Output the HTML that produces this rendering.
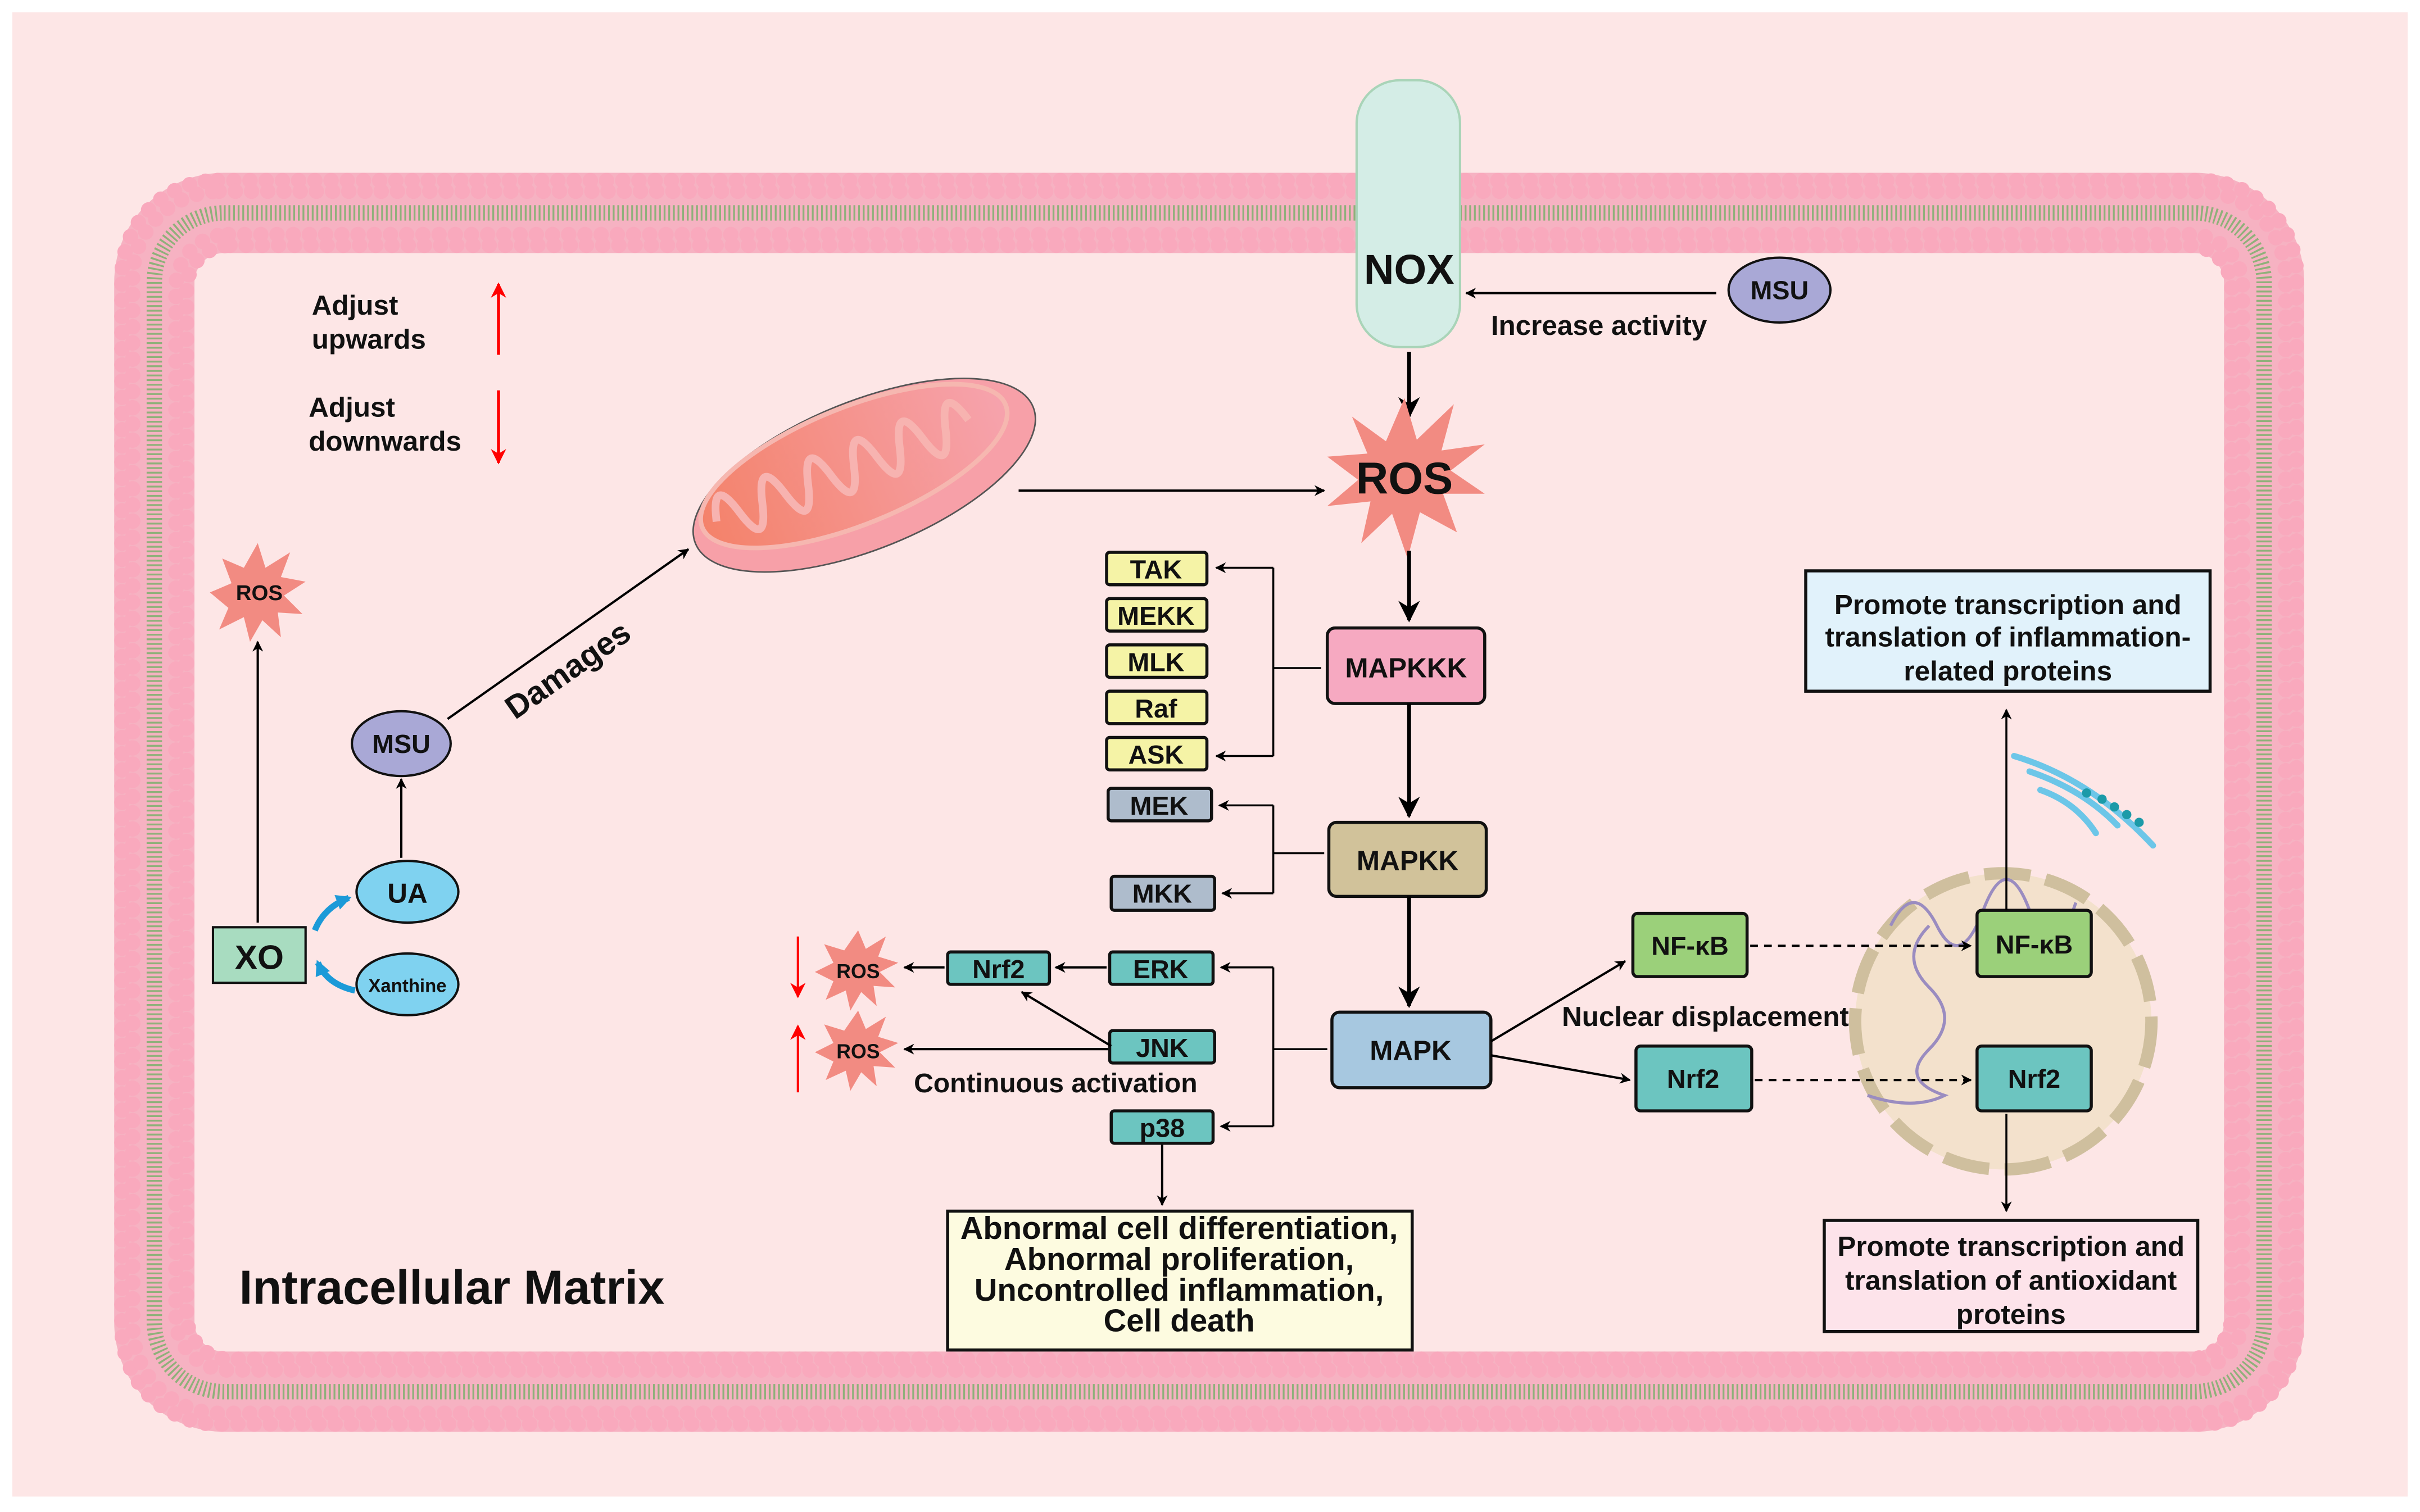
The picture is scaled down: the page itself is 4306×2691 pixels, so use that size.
<!DOCTYPE html>
<html><head><meta charset="utf-8"><style>
html,body{margin:0;padding:0;background:#fff;}
svg{display:block;}
text{font-family:"Liberation Sans",Arial,sans-serif;font-weight:bold;fill:#111;}
</style></head><body>
<svg width="4306" height="2691" viewBox="0 0 1568 980" preserveAspectRatio="none" xmlns="http://www.w3.org/2000/svg">
<defs>
<marker id="a" viewBox="0 0 10 10" refX="9" refY="5" markerWidth="7" markerHeight="7" orient="auto-start-reverse" markerUnits="userSpaceOnUse"><path d="M0,0 L10,5 L0,10 L3,5 z" fill="#000"/></marker>
<marker id="ab" viewBox="0 0 10 10" refX="9" refY="5" markerWidth="14" markerHeight="14" orient="auto" markerUnits="userSpaceOnUse"><path d="M0,0 L10,5 L0,10 L3,5 z" fill="#000"/></marker>
<marker id="ar" viewBox="0 0 10 10" refX="9" refY="5" markerWidth="10" markerHeight="10" orient="auto" markerUnits="userSpaceOnUse"><path d="M0,0 L10,5 L0,10 L3,5 z" fill="#f00"/></marker>
<marker id="abl" viewBox="0 0 10 10" refX="8" refY="5" markerWidth="10" markerHeight="10" orient="auto" markerUnits="userSpaceOnUse"><path d="M0,0 L10,5 L0,10 z" fill="#1b9ad8"/></marker>
<linearGradient id="mito" x1="0" y1="0" x2="1" y2="0"><stop offset="0" stop-color="#f4826a"/><stop offset="1" stop-color="#f6a3ad"/></linearGradient>
</defs>
<rect x="0" y="0" width="1568" height="980" fill="#fff"/>
<rect x="8" y="8" width="1552" height="962" fill="#fde6e6"/>

<!-- membrane -->
<rect x="100" y="138" width="1367" height="764" rx="45" fill="none" stroke="#f6b2c2" stroke-width="52"/>
<rect x="79" y="117" width="1409" height="806" rx="62" fill="none" stroke="#f9a9bd" stroke-width="10" stroke-dasharray="0 10.5" stroke-linecap="round"/>
<rect x="86" y="124" width="1395" height="792" rx="56" fill="none" stroke="#f9a9bd" stroke-width="10" stroke-dasharray="0 10.5" stroke-linecap="round"/>
<rect x="114" y="152" width="1339" height="736" rx="34" fill="none" stroke="#f9a9bd" stroke-width="10" stroke-dasharray="0 10.5" stroke-linecap="round"/>
<rect x="121" y="159" width="1325" height="722" rx="28" fill="none" stroke="#f9a9bd" stroke-width="10" stroke-dasharray="0 10.5" stroke-linecap="round"/>
<rect x="100" y="138" width="1367" height="764" rx="45" fill="none" stroke="#8fb07a" stroke-width="10" stroke-dasharray="1.2 1.8"/>

<!-- NOX -->
<rect x="879" y="52" width="67" height="173" rx="28" fill="#d4ede6" stroke="#a9d4b8" stroke-width="1.5"/>
<text x="913" y="184" font-size="27" text-anchor="middle">NOX</text>
<ellipse cx="1153" cy="188" rx="33" ry="21" fill="#a9a8d6" stroke="#111" stroke-width="1.5"/>
<text x="1153" y="194" font-size="17" text-anchor="middle">MSU</text>
<line x1="1112" y1="190" x2="950" y2="190" stroke="#000" stroke-width="1.5" marker-end="url(#a)"/>
<text x="1036" y="217" font-size="18" text-anchor="middle">Increase activity</text>
<line x1="913" y1="228" x2="913" y2="270" stroke="#000" stroke-width="2.5" marker-end="url(#ab)"/>

<!-- ROS big -->
<polygon points="910,258 918,285 942,262 934,292 962,288 940,305 962,320 935,320 944,345 920,332 912,362 902,333 882,352 888,325 860,328 880,311 860,296 886,294 876,270 898,286" fill="#f28b82"/>
<text x="910" y="320" font-size="29" text-anchor="middle">ROS</text>

<!-- mitochondrion -->
<g transform="rotate(-22 560 308)">
<ellipse cx="560" cy="308" rx="118" ry="48" fill="#f7a0a8" stroke="#555" stroke-width="1"/>
<ellipse cx="556" cy="300" rx="106" ry="38" fill="url(#mito)" stroke="#f6b7b0" stroke-width="3"/>
<path d="M460,300 q8,-30 16,0 q8,30 16,0 q8,-30 16,0 q8,30 16,0 q8,-30 16,0 q8,30 16,0 q8,-30 16,0 q8,30 16,0 q8,-30 16,0 q8,30 16,0 q8,-30 16,0" fill="none" stroke="#f7b3b0" stroke-width="5"/>
</g>
<line x1="660" y1="318" x2="858" y2="318" stroke="#000" stroke-width="1.5" marker-end="url(#a)"/>

<!-- legend -->
<text x="202" y="204" font-size="18">Adjust</text>
<text x="202" y="226" font-size="18">upwards</text>
<line x1="323" y1="230" x2="323" y2="184" stroke="#f00" stroke-width="2" marker-end="url(#ar)"/>
<text x="200" y="270" font-size="18">Adjust</text>
<text x="200" y="292" font-size="18">downwards</text>
<line x1="323" y1="253" x2="323" y2="300" stroke="#f00" stroke-width="2" marker-end="url(#ar)"/>

<!-- left ROS -->
<polygon points="167,352 172,368 188,358 182,374 198,377 184,386 196,398 180,397 182,413 170,402 162,416 158,400 142,408 148,394 136,384 150,378 144,362 158,368" fill="#f28b82"/>
<text x="168" y="389" font-size="14" text-anchor="middle">ROS</text>
<line x1="167" y1="598" x2="167" y2="416" stroke="#000" stroke-width="1.5" marker-end="url(#a)"/>
<rect x="138" y="601" width="60" height="36" fill="#a8dcc0" stroke="#111" stroke-width="1.5"/>
<text x="168" y="628" font-size="22" text-anchor="middle">XO</text>
<path d="M204,603 Q210,588 226,582" fill="none" stroke="#1b9ad8" stroke-width="4" marker-end="url(#abl)"/>
<path d="M230,642 Q212,638 206,624" fill="none" stroke="#1b9ad8" stroke-width="4" marker-end="url(#abl)"/>
<ellipse cx="264" cy="578" rx="33" ry="20" fill="#7fd2f0" stroke="#111" stroke-width="1.5"/>
<text x="264" y="585" font-size="18" text-anchor="middle">UA</text>
<ellipse cx="264" cy="638" rx="33" ry="20" fill="#7fd2f0" stroke="#111" stroke-width="1.5"/>
<text x="264" y="643" font-size="12" text-anchor="middle">Xanthine</text>
<line x1="260" y1="556" x2="260" y2="505" stroke="#000" stroke-width="1.5" marker-end="url(#a)"/>
<ellipse cx="260" cy="482" rx="32" ry="21" fill="#a9a8d6" stroke="#111" stroke-width="1.5"/>
<text x="260" y="488" font-size="17" text-anchor="middle">MSU</text>
<line x1="290" y1="466" x2="446" y2="356" stroke="#000" stroke-width="1.5" marker-end="url(#a)"/>
<text x="372" y="440" font-size="21" text-anchor="middle" transform="rotate(-35 372 440)">Damages</text>

<!-- MAPKKK -->
<line x1="913" y1="357" x2="913" y2="402" stroke="#000" stroke-width="2.5" marker-end="url(#ab)"/>
<rect x="860" y="407" width="102" height="49" rx="5" fill="#f6a9c1" stroke="#111" stroke-width="2"/>
<text x="911" y="439" font-size="18" text-anchor="middle">MAPKKK</text>
<rect x="717" y="358" width="65" height="21" rx="2" fill="#f5f3a6" stroke="#111" stroke-width="2"/><text x="749" y="375" font-size="17" text-anchor="middle">TAK</text>
<rect x="717" y="388" width="65" height="21" rx="2" fill="#f5f3a6" stroke="#111" stroke-width="2"/><text x="749" y="405" font-size="17" text-anchor="middle">MEKK</text>
<rect x="717" y="418" width="65" height="21" rx="2" fill="#f5f3a6" stroke="#111" stroke-width="2"/><text x="749" y="435" font-size="17" text-anchor="middle">MLK</text>
<rect x="717" y="448" width="65" height="21" rx="2" fill="#f5f3a6" stroke="#111" stroke-width="2"/><text x="749" y="465" font-size="17" text-anchor="middle">Raf</text>
<rect x="717" y="478" width="65" height="21" rx="2" fill="#f5f3a6" stroke="#111" stroke-width="2"/><text x="749" y="495" font-size="17" text-anchor="middle">ASK</text>
<path d="M825,368 V490" stroke="#000" stroke-width="1.3" fill="none"/>
<line x1="825" y1="368" x2="788" y2="368" stroke="#000" stroke-width="1.3" marker-end="url(#a)"/>
<line x1="825" y1="490" x2="788" y2="490" stroke="#000" stroke-width="1.3" marker-end="url(#a)"/>
<line x1="825" y1="433" x2="856" y2="433" stroke="#000" stroke-width="1.3"/>

<!-- MAPKK -->
<line x1="913" y1="456" x2="913" y2="529" stroke="#000" stroke-width="2.5" marker-end="url(#ab)"/>
<rect x="861" y="533" width="102" height="48" rx="5" fill="#d1c29a" stroke="#111" stroke-width="2"/>
<text x="912" y="564" font-size="18" text-anchor="middle">MAPKK</text>
<rect x="718" y="511" width="67" height="21" rx="2" fill="#aebccc" stroke="#111" stroke-width="2"/><text x="751" y="528" font-size="17" text-anchor="middle">MEK</text>
<rect x="720" y="568" width="67" height="22" rx="2" fill="#aebccc" stroke="#111" stroke-width="2"/><text x="753" y="585" font-size="17" text-anchor="middle">MKK</text>
<path d="M825,522 V579" stroke="#000" stroke-width="1.3" fill="none"/>
<line x1="825" y1="522" x2="790" y2="522" stroke="#000" stroke-width="1.3" marker-end="url(#a)"/>
<line x1="825" y1="579" x2="792" y2="579" stroke="#000" stroke-width="1.3" marker-end="url(#a)"/>
<line x1="825" y1="553" x2="858" y2="553" stroke="#000" stroke-width="1.3"/>

<!-- MAPK -->
<line x1="913" y1="581" x2="913" y2="652" stroke="#000" stroke-width="2.5" marker-end="url(#ab)"/>
<rect x="863" y="656" width="103" height="49" rx="5" fill="#a7c8e0" stroke="#111" stroke-width="2"/>
<text x="914" y="687" font-size="18" text-anchor="middle">MAPK</text>
<rect x="719" y="617" width="67" height="21" rx="2" fill="#6cc5c0" stroke="#111" stroke-width="2"/><text x="752" y="634" font-size="17" text-anchor="middle">ERK</text>
<rect x="719" y="668" width="68" height="21" rx="2" fill="#6cc5c0" stroke="#111" stroke-width="2"/><text x="753" y="685" font-size="17" text-anchor="middle">JNK</text>
<rect x="720" y="720" width="66" height="21" rx="2" fill="#6cc5c0" stroke="#111" stroke-width="2"/><text x="753" y="737" font-size="17" text-anchor="middle">p38</text>
<path d="M825,627 V730" stroke="#000" stroke-width="1.3" fill="none"/>
<line x1="825" y1="627" x2="791" y2="627" stroke="#000" stroke-width="1.3" marker-end="url(#a)"/>
<line x1="825" y1="730" x2="791" y2="730" stroke="#000" stroke-width="1.3" marker-end="url(#a)"/>
<line x1="825" y1="680" x2="860" y2="680" stroke="#000" stroke-width="1.3"/>

<rect x="614" y="617" width="66" height="21" rx="2" fill="#6cc5c0" stroke="#111" stroke-width="2"/><text x="647" y="634" font-size="17" text-anchor="middle">Nrf2</text>
<line x1="717" y1="627" x2="684" y2="627" stroke="#000" stroke-width="1.5" marker-end="url(#a)"/>
<line x1="612" y1="627" x2="586" y2="627" stroke="#000" stroke-width="1.5" marker-end="url(#a)"/>
<line x1="720" y1="678" x2="662" y2="643" stroke="#000" stroke-width="1.5" marker-end="url(#a)"/>
<line x1="718" y1="680" x2="586" y2="680" stroke="#000" stroke-width="1.5" marker-end="url(#a)"/>
<polygon points="556,603 561,615 574,607 569,620 582,624 570,630 580,640 566,639 568,652 558,643 551,655 548,642 535,648 540,636 528,630 540,624 534,612 547,616" fill="#f28b82"/>
<text x="556" y="634" font-size="13" text-anchor="middle">ROS</text>
<polygon points="556,655 561,667 574,659 569,672 582,676 570,682 580,692 566,691 568,704 558,695 551,707 548,694 535,700 540,688 528,682 540,676 534,664 547,668" fill="#f28b82"/>
<text x="556" y="686" font-size="13" text-anchor="middle">ROS</text>
<line x1="517" y1="607" x2="517" y2="646" stroke="#f00" stroke-width="1.5" marker-end="url(#ar)"/>
<line x1="517" y1="708" x2="517" y2="665" stroke="#f00" stroke-width="1.5" marker-end="url(#ar)"/>
<text x="684" y="708" font-size="17.5" text-anchor="middle">Continuous activation</text>
<line x1="753" y1="742" x2="753" y2="781" stroke="#000" stroke-width="1.5" marker-end="url(#a)"/>
<rect x="614" y="785" width="301" height="90" fill="#fdfbe0" stroke="#111" stroke-width="2"/>
<text x="764" y="803" font-size="20.5" text-anchor="middle">Abnormal cell differentiation,</text>
<text x="764" y="823" font-size="20.5" text-anchor="middle">Abnormal proliferation,</text>
<text x="764" y="843" font-size="20.5" text-anchor="middle">Uncontrolled inflammation,</text>
<text x="764" y="863" font-size="20.5" text-anchor="middle">Cell death</text>
<text x="155" y="845" font-size="31">Intracellular Matrix</text>

<!-- right side -->
<line x1="966" y1="675" x2="1053" y2="623" stroke="#000" stroke-width="1.5" marker-end="url(#a)"/>
<line x1="966" y1="684" x2="1056" y2="700" stroke="#000" stroke-width="1.5" marker-end="url(#a)"/>
<circle cx="1298" cy="662" r="96" fill="#f3e1cc" stroke="#cfbf9e" stroke-width="8" stroke-dasharray="30 10"/>
<path d="M1225,600 q15,-30 30,0 t30,-10 t30,0 t30,-5 M1250,600 q-20,20 0,40 t0,40 t10,30 q-20,10 -50,0" fill="none" stroke="#9a8cc0" stroke-width="2"/>
<g stroke="#6cc6e8" stroke-width="4" fill="none" stroke-linecap="round">
<path d="M1305,490 Q1355,505 1395,548"/><path d="M1315,500 Q1350,512 1372,535"/><path d="M1322,512 Q1345,520 1358,540"/>
</g>
<g fill="#1b9aa8"><circle cx="1352" cy="514" r="3"/><circle cx="1362" cy="518" r="3"/><circle cx="1370" cy="523" r="3"/><circle cx="1378" cy="528" r="3"/><circle cx="1386" cy="533" r="3"/></g>
<rect x="1058" y="592" width="74" height="41" rx="3" fill="#9bd07a" stroke="#111" stroke-width="2"/>
<text x="1095" y="619" font-size="17" text-anchor="middle">NF-κB</text>
<rect x="1060" y="678" width="75" height="42" rx="3" fill="#6cc5c0" stroke="#111" stroke-width="2"/>
<text x="1097" y="705" font-size="17" text-anchor="middle">Nrf2</text>
<text x="1105" y="665" font-size="18" text-anchor="middle">Nuclear displacement</text>
<rect x="1281" y="590" width="74" height="43" rx="3" fill="#9bd07a" stroke="#111" stroke-width="2"/>
<text x="1318" y="618" font-size="17" text-anchor="middle">NF-κB</text>
<rect x="1281" y="678" width="74" height="42" rx="3" fill="#6cc5c0" stroke="#111" stroke-width="2"/>
<text x="1318" y="705" font-size="17" text-anchor="middle">Nrf2</text>
<line x1="1134" y1="613" x2="1277" y2="613" stroke="#000" stroke-width="1.5" stroke-dasharray="5 4" marker-end="url(#a)"/>
<line x1="1137" y1="700" x2="1277" y2="700" stroke="#000" stroke-width="1.5" stroke-dasharray="5 4" marker-end="url(#a)"/>
<line x1="1300" y1="590" x2="1300" y2="460" stroke="#000" stroke-width="1.3" marker-end="url(#a)"/>
<rect x="1170" y="370" width="262" height="78" fill="#e1f2fb" stroke="#111" stroke-width="2"/>
<text x="1301" y="398" font-size="18" text-anchor="middle">Promote transcription and</text>
<text x="1301" y="419" font-size="18" text-anchor="middle">translation of inflammation-</text>
<text x="1301" y="441" font-size="18" text-anchor="middle">related proteins</text>
<line x1="1300" y1="722" x2="1300" y2="785" stroke="#000" stroke-width="1.3" marker-end="url(#a)"/>
<rect x="1182" y="791" width="242" height="72" fill="#fde3ea" stroke="#111" stroke-width="2"/>
<text x="1303" y="814" font-size="18" text-anchor="middle">Promote transcription and</text>
<text x="1303" y="836" font-size="18" text-anchor="middle">translation of antioxidant</text>
<text x="1303" y="858" font-size="18" text-anchor="middle">proteins</text>
</svg>
</body></html>
